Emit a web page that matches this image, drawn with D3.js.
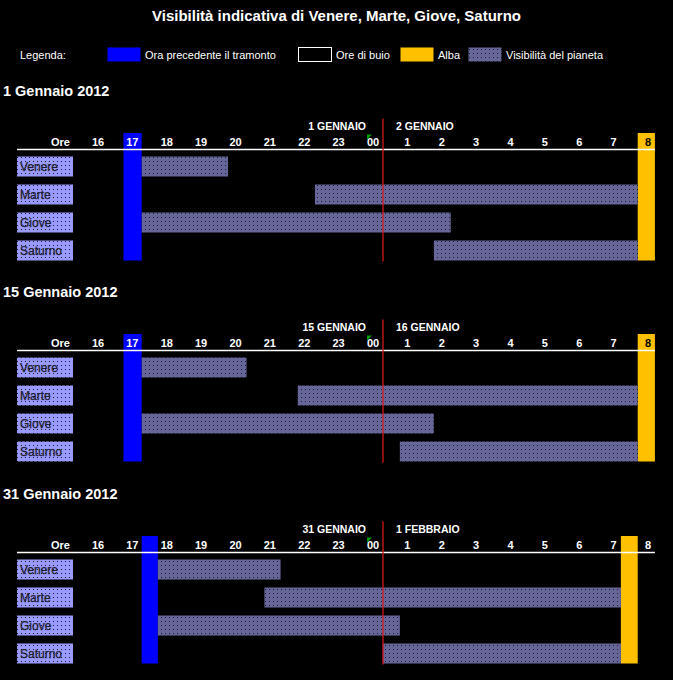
<!DOCTYPE html>
<html>
<head>
<meta charset="utf-8">
<script src="https://cdn.jsdelivr.net/npm/d3@7"></script>
<style>
  html, body { margin: 0; padding: 0; background: #000; }
  svg { display: block; }
  text { font-family: "Liberation Sans", Arial, sans-serif; }
</style>
</head>
<body>
<svg id="chart" width="673" height="680"></svg>
<script>
// ---------- DATA ----------
const chartTitle = "Visibilità indicativa di Venere, Marte, Giove, Saturno";
const legendLabels = ["Ora precedente il tramonto", "Ore di buio", "Alba", "Visibilità del pianeta"];
const planets = ["Venere", "Marte", "Giove", "Saturno"];
const panelTitles = ["1 Gennaio 2012", "15 Gennaio 2012", "31 Gennaio 2012"];
const dayBefore = ["1 GENNAIO", "15 GENNAIO", "31 GENNAIO"];
const dayAfter = ["2 GENNAIO", "16 GENNAIO", "1 FEBBRAIO"];
// hours on a continuous scale (24 = midnight, 32 = 8:00 next day)
const hourTicks = [16, 17, 18, 19, 20, 21, 22, 23, 24, 25, 26, 27, 28, 29, 30, 31, 32];
const hourLabels = ["16", "17", "18", "19", "20", "21", "22", "23", "00", "1", "2", "3", "4", "5", "6", "7", "8"];
const midnight = 24;
// hour before sunset (blue) [start, end] per panel
const sunsetStart = [16.45, 16.45, 16.98];
const sunsetEnd = [16.98, 16.98, 17.45];
// dawn (yellow) [start, end] per panel
const dawnStart = [31.41, 31.41, 30.92];
const dawnEnd = [31.91, 31.91, 31.41];
// planet visibility per panel: Venere, Marte, Giove, Saturno
const visStart = [
  [16.98, 22.02, 16.98, 25.48],
  [16.98, 21.52, 16.98, 24.49],
  [17.45, 20.55, 17.45, 24.00]
];
const visEnd = [
  [19.49, 31.41, 25.97, 31.41],
  [20.03, 31.41, 25.48, 31.41],
  [21.02, 30.92, 24.49, 30.92]
];

// ---------- LAYOUT ----------
const svg = d3.select("#chart");
const W = 673;
const panelLineY = [149.5, 350.5, 552.5];
const x = d3.scaleLinear().domain([16, 32]).range([108, 658]);
const labelOffset = -10.5;
const rowStep = 28, rowTop = 7, barH = 20;
const colors = {
  blue: "#0000ff", yellow: "#ffc000", bar: "#666699", label: "#9999ff", red: "#d41a1a"
};

// patterns
const defs = svg.append("defs");
function dotPattern(id, base) {
  const p = defs.append("pattern").attr("id", id).attr("patternUnits", "userSpaceOnUse")
    .attr("width", 4).attr("height", 4);
  p.append("rect").attr("width", 4).attr("height", 4).attr("fill", base);
  p.append("rect").attr("x", 1).attr("y", 1).attr("width", 1).attr("height", 1).attr("fill", "#1a1a33");
}
dotPattern("barPat", colors.bar);
dotPattern("labPat", colors.label);

svg.append("rect").attr("width", W).attr("height", 680).attr("fill", "#000");

// title
svg.append("text").attr("x", 336.5).attr("y", 21).attr("text-anchor", "middle")
  .attr("fill", "#fff").attr("font-size", 15).attr("font-weight", "bold").text(chartTitle);

// legend
const lg = svg.append("g");
lg.append("text").attr("x", 20).attr("y", 59).attr("fill", "#fff").attr("font-size", 11).text("Legenda:");
const legendItems = [
  { x: 107, fill: colors.blue, stroke: "none" },
  { x: 298, fill: "#000", stroke: "#fff" },
  { x: 400, fill: colors.yellow, stroke: "none" },
  { x: 468, fill: "url(#barPat)", stroke: "none" }
];
legendItems.forEach((it, i) => {
  lg.append("rect").attr("x", it.x + 0.5).attr("y", 47.5).attr("width", 33).attr("height", 14)
    .attr("fill", it.fill).attr("stroke", it.stroke);
  lg.append("text").attr("x", it.x + 38).attr("y", 59).attr("fill", "#fff").attr("font-size", 11)
    .text(legendLabels[i]);
});

// panels
panelTitles.forEach((title, p) => {
  const ly = panelLineY[p];
  const g = svg.append("g");

  g.append("text").attr("x", 3).attr("y", ly - 54).attr("fill", "#fff")
    .attr("font-size", 14.5).attr("font-weight", "bold").text(title);

  const colTop = ly - 16.5, colBot = ly + rowTop + 3 * rowStep + barH;

  // hour before sunset
  g.append("rect").attr("x", x(sunsetStart[p])).attr("y", colTop)
    .attr("width", x(sunsetEnd[p]) - x(sunsetStart[p])).attr("height", colBot - colTop)
    .attr("fill", colors.blue);
  // dawn
  g.append("rect").attr("x", x(dawnStart[p])).attr("y", colTop)
    .attr("width", x(dawnEnd[p]) - x(dawnStart[p])).attr("height", colBot - colTop)
    .attr("fill", colors.yellow);

  // planet labels and bars
  planets.forEach((name, r) => {
    const y = ly + rowTop + r * rowStep;
    g.append("rect").attr("x", 17).attr("y", y).attr("width", 56).attr("height", barH)
      .attr("fill", "url(#labPat)");
    g.append("text").attr("x", 20).attr("y", y + 14.5).attr("fill", "#1c1c2a")
      .attr("stroke", "#1c1c2a").attr("stroke-width", 0.25)
      .attr("font-size", 12).text(name);
    g.append("rect").attr("x", x(visStart[p][r])).attr("y", y)
      .attr("width", x(visEnd[p][r]) - x(visStart[p][r])).attr("height", barH)
      .attr("fill", "url(#barPat)");
  });

  // hour axis
  const axis = d3.axisTop(x).tickValues(hourTicks)
    .tickFormat((d, i) => hourLabels[i]).tickSize(0).tickPadding(3.5);
  const ag = g.append("g").attr("transform", `translate(0,${ly})`).call(axis);
  ag.select(".domain").remove();
  ag.selectAll("text")
    .attr("font-family", "Liberation Sans, Arial, sans-serif")
    .attr("font-size", 11).attr("font-weight", "bold")
    .attr("dx", labelOffset)
    .attr("fill", d => {
      const cx = x(d) + labelOffset;
      return (cx > x(dawnStart[p]) && cx < x(dawnEnd[p])) ? "#000" : "#fff";
    });
  g.append("text").attr("x", 70).attr("y", ly - 3.5).attr("text-anchor", "end")
    .attr("fill", "#fff").attr("font-size", 11).attr("font-weight", "bold").text("Ore");

  // white line
  g.append("line").attr("x1", 17).attr("x2", x(31.91))
    .attr("y1", ly).attr("y2", ly).attr("stroke", "#fff").attr("stroke-width", 1.5);

  // day labels
  g.append("text").attr("x", x(midnight) - 17).attr("y", ly - 20).attr("text-anchor", "end")
    .attr("fill", "#fff").attr("font-size", 10.5).attr("font-weight", "bold").text(dayBefore[p]);
  g.append("text").attr("x", x(midnight) + 13).attr("y", ly - 20)
    .attr("fill", "#fff").attr("font-size", 10.5).attr("font-weight", "bold").text(dayAfter[p]);

  // green marker
  const mx = x(midnight) - 16;
  g.append("path").attr("d", `M${mx},${ly - 15}h5l-5,5z`).attr("fill", "#00a000");

  // midnight red line
  g.append("line").attr("x1", x(midnight)).attr("x2", x(midnight))
    .attr("y1", ly - 31).attr("y2", colBot + 1).attr("stroke", colors.red).attr("stroke-width", 1.3);
});
</script>
</body>
</html>
